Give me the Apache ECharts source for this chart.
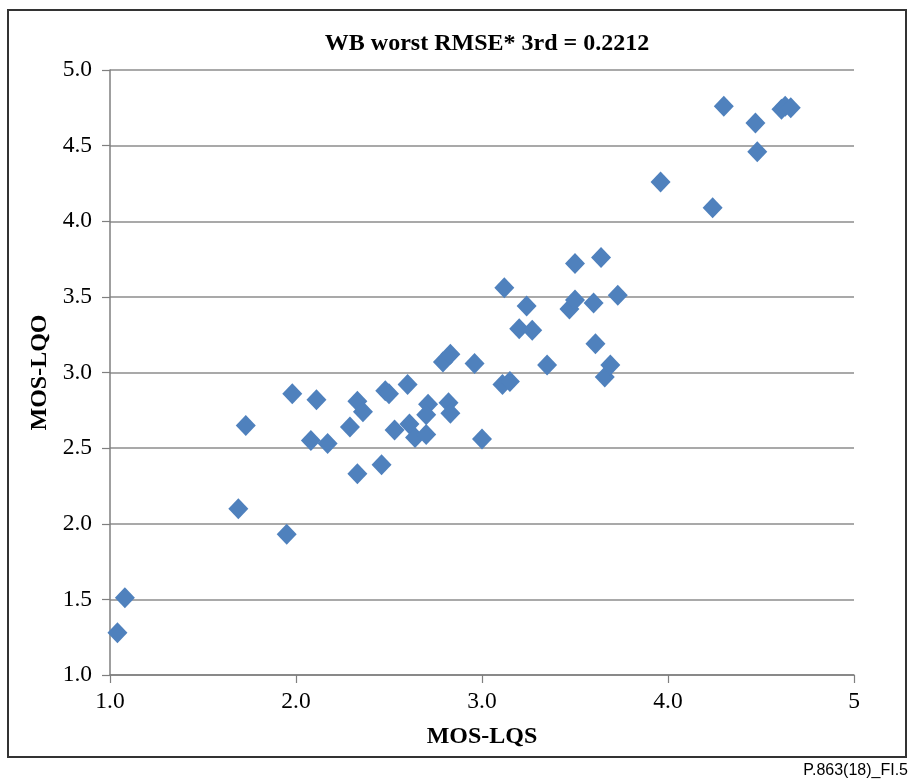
<!DOCTYPE html>
<html>
<head>
<meta charset="utf-8">
<script src="https://cdn.jsdelivr.net/npm/echarts@6/dist/echarts.min.js"></script>
<style>
html,body{margin:0;padding:0;background:#fff;}
#chart{width:910px;height:782px;}
</style>
</head>
<body>
<div id="chart"></div>
<script>
const titleText = 'WB worst RMSE* 3rd = 0.2212';
const xName = 'MOS-LQS';
const yName = 'MOS-LQO';
const footerText = 'P.863(18)_FI.5';
const mosLQS = [1.04,1.08,1.69,1.73,1.95,1.98,2.08,2.11,2.17,2.29,2.33,2.33,2.36,2.46,2.48,2.50,2.53,2.60,2.61,2.64,2.71,2.70,2.70,2.79,2.83,2.82,2.83,2.96,3.00,3.12,3.11,3.15,3.20,3.24,3.27,3.35,3.47,3.50,3.50,3.60,3.61,3.64,3.66,3.69,3.73,3.96,4.24,4.30,4.47,4.48,4.61,4.63,4.66];
const mosLQO = [1.28,1.51,2.10,2.65,1.93,2.86,2.55,2.82,2.53,2.64,2.33,2.81,2.74,2.39,2.88,2.86,2.62,2.92,2.66,2.57,2.79,2.72,2.59,3.07,3.12,2.80,2.73,3.06,2.56,3.56,2.92,2.94,3.29,3.44,3.28,3.05,3.42,3.48,3.72,3.46,3.19,3.76,2.97,3.05,3.51,4.26,4.09,4.76,4.65,4.46,4.74,4.76,4.75];
const xTickLabels = {1:'1.0',2:'2.0',3:'3.0',4:'4.0',5:'5'};

const points = mosLQS.map((x,i)=>[x, mosLQO[i]]);
const chart = echarts.init(document.getElementById('chart'), null, {renderer:'canvas'});
const serif = '"Liberation Serif","Times New Roman",serif';
chart.setOption({
  animation:false,
  backgroundColor:'#fff',
  title:{
    text:titleText, left:482, top:27, textAlign:'center',
    textStyle:{fontFamily:serif, fontWeight:'bold', fontSize:24, color:'#000'}
  },
  grid:{left:110, right:56, top:70, bottom:107, containLabel:false},
  xAxis:{
    type:'value', min:1, max:5, interval:1,
    name:xName, nameLocation:'middle', nameGap:50,
    nameTextStyle:{fontFamily:serif, fontWeight:'bold', fontSize:24, color:'#000'},
    axisLine:{show:true, onZero:false, lineStyle:{color:'#7f7f7f', width:1.5}},
    axisTick:{show:true, inside:false, length:8, lineStyle:{color:'#7f7f7f', width:1.2}},
    axisLabel:{fontFamily:serif, fontSize:23.5, color:'#000', margin:15,
      formatter:v=>xTickLabels[v] || v.toFixed(1)},
    splitLine:{show:false}
  },
  yAxis:{
    type:'value', min:1, max:5, interval:0.5,
    name:yName, nameLocation:'middle', nameGap:58, nameRotate:90,
    nameTextStyle:{fontFamily:serif, fontWeight:'bold', fontSize:24, color:'#000'},
    axisLine:{show:true, onZero:false, lineStyle:{color:'#7f7f7f', width:1.5}},
    axisTick:{show:true, inside:false, length:8, lineStyle:{color:'#7f7f7f', width:1.2}},
    axisLabel:{fontFamily:serif, fontSize:23.5, color:'#000', margin:18,
      formatter:v=>v.toFixed(1)},
    splitLine:{show:true, lineStyle:{color:'#8c8c8c', width:1.5}}
  },
  series:[{
    type:'scatter', data:points, symbol:'diamond', symbolSize:[20,21],
    itemStyle:{color:'#4F81BD', opacity:1}
  }],
  graphic:[
    {type:'rect', shape:{x:8, y:10, width:898, height:747},
     style:{fill:'none', stroke:'#333', lineWidth:2}, z:-1},
    {type:'text', right:2, top:763,
     style:{text:footerText, font:'16px "Liberation Sans", Arial, sans-serif', fill:'#000'}}
  ]
});
</script>
</body>
</html>
